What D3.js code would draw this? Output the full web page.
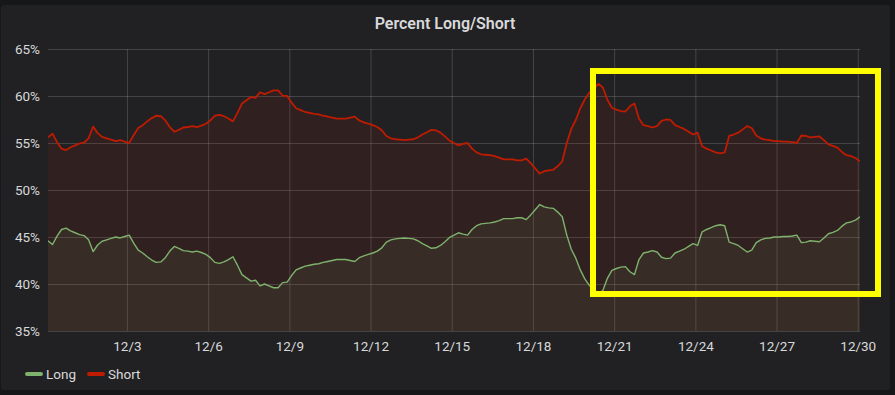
<!DOCTYPE html>
<html>
<head>
<meta charset="utf-8">
<script src="https://cdn.jsdelivr.net/npm/d3@7"></script>
<style>
  html, body { margin: 0; padding: 0; background: #161719; }
  svg { display: block; }
  text { font-family: Roboto, "Helvetica Neue", Arial, sans-serif; }
</style>
</head>
<body>
<svg id="chart" width="895" height="395"></svg>
<script>
// Percent Long/Short — Grafana-style panel, 4-hourly samples from Nov 30 to Dec 30
const seriesNames = ['Long', 'Short'];
const seriesColors = ['#7EB26D', '#BF1B00'];
const yTicks = [35, 40, 45, 50, 55, 60, 65];
const xTickDates = ['2020-12-03', '2020-12-06', '2020-12-09', '2020-12-12', '2020-12-15',
  '2020-12-18', '2020-12-21', '2020-12-24', '2020-12-27', '2020-12-30'];
const xTickLabels = ['12/3', '12/6', '12/9', '12/12', '12/15', '12/18', '12/21', '12/24', '12/27', '12/30'];

const startTime = Date.UTC(2020, 10, 30, 2); // first sample
const stepHours = 4;

const long = [
  44.6, 44.2, 45.1, 45.8, 45.95, 45.65, 45.45, 45.25, 45.15, 44.7,
  43.45, 44.15, 44.55, 44.7, 44.85, 45.0, 44.9, 45.05, 45.2, 44.35,
  43.6, 43.3, 42.9, 42.55, 42.3, 42.35, 42.8, 43.5, 44.0, 43.8,
  43.55, 43.5, 43.4, 43.5, 43.35, 43.15, 42.8, 42.3, 42.2, 42.35,
  42.6, 42.9, 42.0, 41.0, 40.65, 40.3, 40.4, 39.8, 40.0, 39.8,
  39.6, 39.6, 40.15, 40.2, 40.9, 41.5, 41.7, 41.9, 42.0, 42.1,
  42.15, 42.3, 42.4, 42.5, 42.6, 42.6, 42.6, 42.5, 42.4, 42.8,
  43.0, 43.15, 43.3, 43.5, 43.85, 44.45, 44.7, 44.8, 44.85, 44.9,
  44.85, 44.8, 44.6, 44.3, 44.05, 43.8, 43.85, 44.1, 44.5, 44.95,
  45.2, 45.45, 45.3, 45.2, 45.8, 46.2, 46.4, 46.45, 46.5, 46.6,
  46.75, 46.95, 46.95, 46.95, 47.05, 47.05, 46.85, 47.35, 47.9, 48.45,
  48.2, 48.1, 48.05, 47.65, 47.15, 45.2, 43.7, 42.75, 41.5, 40.55,
  39.85, 39.45, 39.0, 39.3, 40.6, 41.45, 41.65, 41.8, 41.85, 41.3,
  41.0, 42.6, 43.3, 43.4, 43.55, 43.4, 42.85, 42.7, 42.75, 43.3,
  43.5, 43.7, 44.0, 44.3, 44.1, 45.55, 45.8, 46.0, 46.2, 46.3,
  46.2, 44.45, 44.3, 44.1, 43.75, 43.4, 43.6, 44.4, 44.7, 44.85,
  44.9, 45.0, 45.0, 45.05, 45.05, 45.1, 45.2, 44.4, 44.45, 44.6,
  44.55, 44.5, 44.9, 45.35, 45.5, 45.7, 46.15, 46.5, 46.6, 46.8,
  47.15
];

const short = [
  55.6, 56.0, 55.1, 54.4, 54.25, 54.55, 54.75, 54.95, 55.05, 55.5,
  56.75, 56.05, 55.65, 55.5, 55.35, 55.2, 55.3, 55.15, 55.0, 55.85,
  56.6, 56.9, 57.3, 57.65, 57.9, 57.85, 57.4, 56.7, 56.2, 56.4,
  56.65, 56.7, 56.8, 56.7, 56.85, 57.05, 57.4, 57.9, 58.0, 57.85,
  57.6, 57.3, 58.2, 59.2, 59.55, 59.9, 59.8, 60.4, 60.2, 60.4,
  60.6, 60.6, 60.05, 60.0, 59.3, 58.7, 58.5, 58.3, 58.2, 58.1,
  58.05, 57.9, 57.8, 57.7, 57.6, 57.6, 57.6, 57.7, 57.8, 57.4,
  57.2, 57.05, 56.9, 56.7, 56.35, 55.75, 55.5, 55.4, 55.35, 55.3,
  55.35, 55.4, 55.6, 55.9, 56.15, 56.4, 56.35, 56.1, 55.7, 55.25,
  55.0, 54.75, 54.9, 55.0, 54.4, 54.0, 53.8, 53.75, 53.7, 53.6,
  53.45, 53.25, 53.25, 53.25, 53.15, 53.15, 53.35, 52.85, 52.3, 51.75,
  52.0, 52.1, 52.15, 52.55, 53.05, 55.0, 56.5, 57.45, 58.7, 59.65,
  60.35, 60.75, 61.3, 60.9, 59.6, 58.75, 58.55, 58.4, 58.35, 58.9,
  59.2, 57.6, 56.9, 56.8, 56.65, 56.8, 57.35, 57.5, 57.45, 56.9,
  56.7, 56.5, 56.2, 55.9, 56.1, 54.65, 54.4, 54.2, 54.0, 53.9,
  54.0, 55.75, 55.9, 56.1, 56.45, 56.8, 56.6, 55.8, 55.5, 55.35,
  55.3, 55.2, 55.2, 55.15, 55.15, 55.1, 55.0, 55.8, 55.75, 55.6,
  55.65, 55.7, 55.3, 54.85, 54.7, 54.5, 54.05, 53.7, 53.6, 53.4,
  53.05
];

const W = 895, H = 395;
const plot = { left: 48, right: 860, top: 49, bottom: 331 };

const svg = d3.select('#chart');

// panel
svg.append('rect')
  .attr('x', 1).attr('y', 5).attr('width', 889).attr('height', 385)
  .attr('rx', 3).attr('fill', '#212124');

svg.append('text')
  .attr('x', 445).attr('y', 23.5)
  .attr('text-anchor', 'middle').attr('dominant-baseline', 'central')
  .attr('fill', '#d8d9da').attr('font-size', '16px').attr('font-weight', 600)
  .text('Percent Long/Short');

const times = long.map((_, i) => new Date(startTime + i * stepHours * 3600e3));

const x = d3.scaleUtc()
  .domain([times[0], times[times.length - 1]])
  .range([plot.left, plot.right]);

const y = d3.scaleLinear()
  .domain([35, 65])
  .range([plot.bottom, plot.top]);

// grid + axes
const yAxis = svg.append('g')
  .attr('transform', `translate(${plot.left},0)`)
  .call(d3.axisLeft(y)
    .tickValues(yTicks)
    .tickFormat(d => d + '%')
    .tickSizeInner(-(plot.right - plot.left))
    .tickSizeOuter(0)
    .tickPadding(8));

const xAxis = svg.append('g')
  .attr('transform', `translate(0,${plot.bottom})`)
  .call(d3.axisBottom(x)
    .tickValues(xTickDates.map(d => new Date(d + 'T00:00:00Z')))
    .tickFormat((d, i) => xTickLabels[i])
    .tickSizeInner(-(plot.bottom - plot.top))
    .tickSizeOuter(0)
    .tickPadding(10));

[yAxis, xAxis].forEach(g => {
  g.select('.domain').remove();
  g.selectAll('line').attr('stroke', '#ffffff').attr('stroke-opacity', 0.16);
  g.selectAll('text')
    .attr('fill', '#d8d9da')
    .attr('font-size', '13.5px')
    .attr('font-family', 'Roboto, "Helvetica Neue", Arial, sans-serif');
});

// series
svg.append('clipPath').attr('id', 'clip')
  .append('rect')
  .attr('x', plot.left).attr('y', plot.top)
  .attr('width', plot.right - plot.left).attr('height', plot.bottom - plot.top);

const series = [long, short];
const gSeries = svg.append('g').attr('clip-path', 'url(#clip)');

series.forEach((vals, k) => {
  const area = d3.area()
    .x((d, i) => x(times[i]))
    .y0(plot.bottom)
    .y1(d => y(d));
  gSeries.append('path')
    .attr('d', area(vals))
    .attr('fill', seriesColors[k])
    .attr('fill-opacity', 0.1);
});

series.forEach((vals, k) => {
  const line = d3.line()
    .x((d, i) => x(times[i]))
    .y(d => y(d));
  gSeries.append('path')
    .attr('d', line(vals))
    .attr('fill', 'none')
    .attr('stroke', seriesColors[k])
    .attr('stroke-width', k === 1 ? 1.8 : 1.4)
    .attr('stroke-linejoin', 'round');
});

// legend
const legendX = [27, 89];
seriesNames.forEach((name, k) => {
  const g = svg.append('g').attr('transform', `translate(${legendX[k]},374)`);
  g.append('line')
    .attr('x1', 0).attr('x2', 14)
    .attr('stroke', seriesColors[k]).attr('stroke-width', 4)
    .attr('stroke-linecap', 'round');
  g.append('text')
    .attr('x', 19).attr('dominant-baseline', 'central')
    .attr('fill', '#d8d9da').attr('font-size', '13.5px')
    .text(name);
});

// highlight box drawn over the chart
svg.append('rect')
  .attr('x', 593).attr('y', 71).attr('width', 285).attr('height', 223)
  .attr('fill', 'none').attr('stroke', '#ffff00').attr('stroke-width', 6);
</script>
</body>
</html>
